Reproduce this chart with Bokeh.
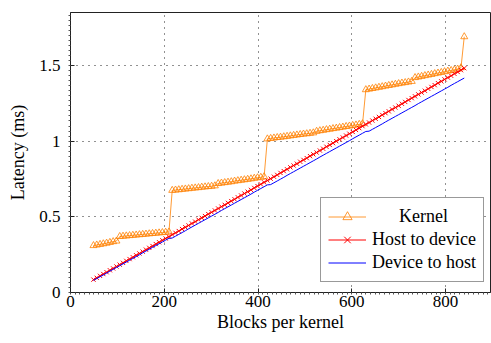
import numpy as np
from bokeh.plotting import figure
from bokeh.models import FixedTicker, Legend, LegendItem, Range1d, NumeralTickFormatter
from bokeh.embed import file_html
from bokeh.resources import INLINE

# Blocks per kernel (x values, every 7 blocks from 49 to 840)
blocks = list(range(49, 841, 7))

kernel = [
    0.310, 0.314, 0.318, 0.322, 0.326, 0.331, 0.336, 0.340,
    0.370, 0.372, 0.374, 0.376, 0.378, 0.380, 0.382, 0.384,
    0.386, 0.388, 0.390, 0.392, 0.394, 0.396, 0.398, 0.400,
    0.675, 0.677, 0.679, 0.682, 0.684, 0.686, 0.689, 0.691,
    0.693, 0.696, 0.698, 0.700, 0.702, 0.705,
    0.720, 0.723, 0.726, 0.729, 0.732, 0.736, 0.739, 0.742,
    0.745, 0.748, 0.751, 0.755, 0.758, 0.761, 0.765,
    1.015, 1.018, 1.021, 1.024, 1.026, 1.029, 1.032, 1.035,
    1.038, 1.041, 1.044, 1.047, 1.049, 1.052, 1.055,
    1.065, 1.069, 1.072, 1.076, 1.079, 1.083, 1.086, 1.090,
    1.093, 1.097, 1.100, 1.104, 1.107, 1.111, 1.115,
    1.340, 1.344, 1.348, 1.352, 1.356, 1.360, 1.364, 1.368,
    1.372, 1.376, 1.380, 1.384, 1.387, 1.391, 1.395,
    1.420, 1.424, 1.428, 1.433, 1.437, 1.441, 1.446, 1.450,
    1.454, 1.459, 1.463, 1.467, 1.471, 1.476, 1.485,
    1.690,
]

host_to_device = [
    0.085, 0.097, 0.110, 0.122, 0.134, 0.147, 0.159, 0.172, 0.184, 0.196,
    0.209, 0.221, 0.233, 0.246, 0.258, 0.270, 0.283, 0.295, 0.307, 0.320,
    0.332, 0.345, 0.357, 0.369, 0.382, 0.394, 0.406, 0.419, 0.431, 0.443,
    0.456, 0.468, 0.481, 0.493, 0.505, 0.518, 0.530, 0.542, 0.555, 0.567,
    0.579, 0.592, 0.604, 0.616, 0.629, 0.641, 0.654, 0.666, 0.678, 0.691,
    0.703, 0.715, 0.728, 0.740, 0.752, 0.765, 0.777, 0.790, 0.802, 0.814,
    0.827, 0.839, 0.851, 0.864, 0.876, 0.888, 0.901, 0.913, 0.925, 0.938,
    0.950, 0.963, 0.975, 0.987, 1.000, 1.012, 1.024, 1.037, 1.049, 1.061,
    1.074, 1.086, 1.099, 1.111, 1.123, 1.136, 1.148, 1.160, 1.173, 1.185,
    1.197, 1.210, 1.222, 1.234, 1.247, 1.259, 1.272, 1.284, 1.296, 1.309,
    1.321, 1.333, 1.346, 1.358, 1.370, 1.383, 1.395, 1.408, 1.420, 1.432,
    1.445, 1.457, 1.469, 1.482,
]

device_to_host = [
    0.080, 0.092, 0.104, 0.116, 0.128, 0.141, 0.153, 0.165, 0.177, 0.189,
    0.201, 0.213, 0.225, 0.237, 0.249, 0.262, 0.274, 0.286, 0.298, 0.310,
    0.322, 0.334, 0.346, 0.358, 0.360, 0.372, 0.384, 0.396, 0.408, 0.421,
    0.433, 0.445, 0.457, 0.469, 0.481, 0.493, 0.505, 0.517, 0.529, 0.542,
    0.554, 0.566, 0.578, 0.590, 0.602, 0.614, 0.626, 0.638, 0.650, 0.663,
    0.675, 0.687, 0.699, 0.711, 0.713, 0.725, 0.737, 0.749, 0.761, 0.774,
    0.786, 0.798, 0.810, 0.822, 0.834, 0.846, 0.858, 0.870, 0.882, 0.895,
    0.907, 0.919, 0.931, 0.943, 0.955, 0.967, 0.979, 0.991, 1.003, 1.016,
    1.028, 1.040, 1.052, 1.064, 1.066, 1.078, 1.090, 1.102, 1.114, 1.127,
    1.139, 1.151, 1.163, 1.175, 1.187, 1.199, 1.211, 1.223, 1.235, 1.248,
    1.260, 1.272, 1.284, 1.296, 1.308, 1.320, 1.332, 1.344, 1.356, 1.369,
    1.381, 1.393, 1.405, 1.417,
]

x_ticks = [0, 200, 400, 600, 800]
y_ticks = [0, 0.5, 1, 1.5]

series_names = ["Kernel", "Host to device", "Device to host"]
x_title = "Blocks per kernel"
y_title = "Latency (ms)"

FONT = "Liberation Serif"
ORANGE = "#ff8000"
RED = "#ff0000"
BLUE = "#0000ff"

p = figure(width=491, height=343, output_backend="svg", toolbar_location=None,
           x_range=Range1d(0, 896), y_range=Range1d(0, 1.85),
           min_border_left=70, min_border_right=1, min_border_top=12, min_border_bottom=51)

p.background_fill_color = "white"
p.outline_line_color = "#222222"
p.outline_line_width = 1

x_minor = [float(v) for v in np.arange(0, 897, 10)]
y_minor = [float(v) for v in np.arange(0, 1.85, 1 / 30)]

p.xaxis.ticker = FixedTicker(ticks=x_ticks, minor_ticks=x_minor)
p.yaxis.ticker = FixedTicker(ticks=y_ticks, minor_ticks=y_minor)
p.xaxis.formatter = NumeralTickFormatter(format="0")
p.yaxis.formatter = NumeralTickFormatter(format="0.[0]")

for ax in (p.xaxis[0], p.yaxis[0]):
    ax.axis_line_color = "#222222"
    ax.major_tick_line_color = "#222222"
    ax.minor_tick_line_color = "#555555"
    ax.major_tick_in = 4
    ax.major_tick_out = 0
    ax.minor_tick_in = 0
    ax.minor_tick_out = 2
    ax.major_label_text_font = FONT
    ax.major_label_text_font_size = "17px"
    ax.major_label_text_color = "black"
    ax.axis_label_text_font = FONT
    ax.axis_label_text_font_size = "18px"
    ax.axis_label_text_font_style = "normal"
    ax.axis_label_text_color = "black"

p.xaxis[0].major_label_standoff = 1
p.yaxis[0].major_label_standoff = 8
p.xaxis[0].axis_label = x_title
p.yaxis[0].axis_label = y_title
p.xaxis[0].axis_label_standoff = 2
p.yaxis[0].axis_label_standoff = 8

p.xgrid.ticker = FixedTicker(ticks=x_ticks)
p.ygrid.ticker = FixedTicker(ticks=y_ticks)
for g in (p.xgrid, p.ygrid):
    g.grid_line_color = "#222222"
    g.grid_line_dash = "1 5"
    g.grid_line_width = 1

k_line = p.line(blocks, kernel, line_color=ORANGE, line_width=0.8)
k_mark = p.scatter(blocks, kernel, marker="triangle", size=7, line_color=ORANGE,
                   fill_color=None, line_width=0.8)
h_line = p.line(blocks, host_to_device, line_color=RED, line_width=1)
h_mark = p.scatter(blocks, host_to_device, marker="x", size=6, line_color=RED, line_width=1)
d_line = p.line(blocks, device_to_host, line_color=BLUE, line_width=1)

legend = Legend(items=[
    LegendItem(label="\u00a0" * 6 + series_names[0], renderers=[k_line, k_mark]),
    LegendItem(label=series_names[1], renderers=[h_line, h_mark]),
    LegendItem(label=series_names[2], renderers=[d_line]),
], location=(250, 10))
legend.label_text_font = FONT
legend.label_text_font_size = "18px"
legend.label_text_color = "black"
legend.glyph_width = 38
legend.glyph_height = 23
legend.label_height = 23
legend.label_standoff = 6
legend.spacing = 0
legend.padding = 7
legend.margin = 0
legend.border_line_color = "#333333"
legend.border_line_width = 1
legend.background_fill_alpha = 1
p.add_layout(legend)

open("out.html", "w").write(file_html(p, INLINE))
